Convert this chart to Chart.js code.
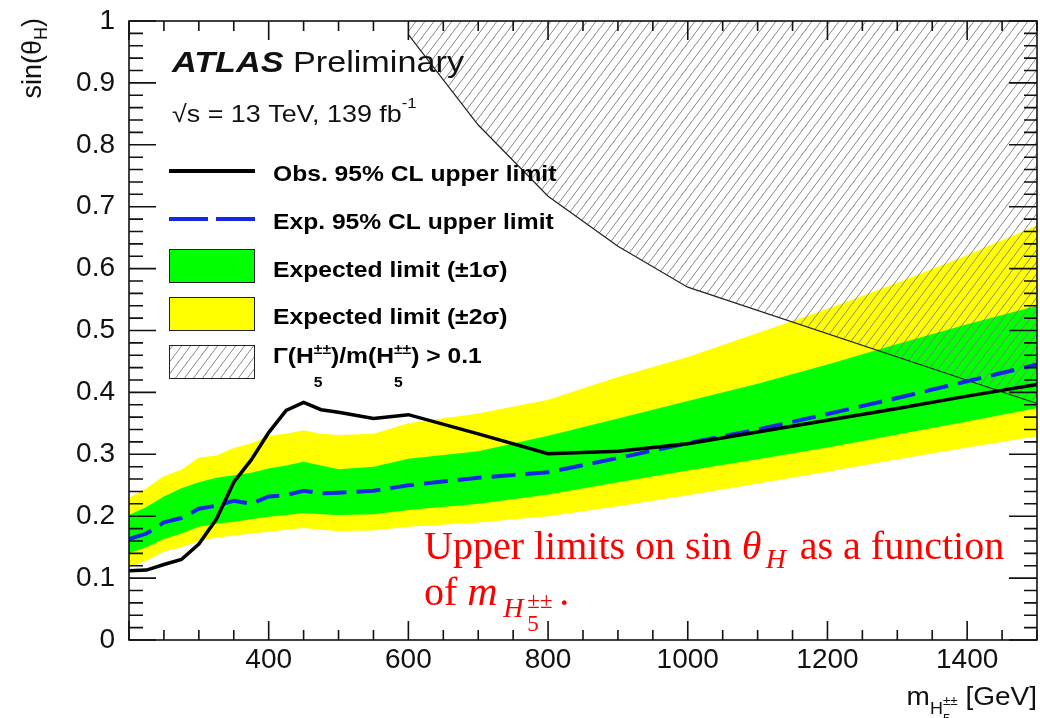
<!DOCTYPE html>
<html>
<head>
<meta charset="utf-8">
<title>sin(theta_H) limits</title>
<script src="https://cdn.jsdelivr.net/npm/chart.js@4.4.1/dist/chart.umd.min.js"></script>
<style>
  html, body { margin: 0; padding: 0; background: #fff; }
  canvas { display: block; }
</style>
</head>
<body>
<canvas id="limitChart" width="1040" height="718"></canvas>
<script>
// H5++ mass points [GeV] and 95% CL upper limits on sin(theta_H)
const masses       = [200, 225, 250, 275, 300, 325, 350, 375, 400, 425, 450, 475, 500, 550, 600, 700, 800, 900, 1000, 1100, 1200, 1300, 1400, 1500];
const observed     = [0.112, 0.113, 0.122, 0.130, 0.155, 0.195, 0.255, 0.291, 0.335, 0.371, 0.384, 0.372, 0.368, 0.358, 0.364, 0.333, 0.301, 0.305, 0.317, 0.336, 0.355, 0.374, 0.394, 0.413];
const expected     = [0.163, 0.172, 0.190, 0.197, 0.212, 0.217, 0.225, 0.220, 0.232, 0.234, 0.241, 0.237, 0.238, 0.241, 0.250, 0.262, 0.271, 0.294, 0.318, 0.340, 0.365, 0.391, 0.418, 0.445];
const oneSigmaUp   = [0.202, 0.215, 0.232, 0.245, 0.255, 0.262, 0.266, 0.270, 0.277, 0.282, 0.288, 0.282, 0.276, 0.280, 0.293, 0.305, 0.330, 0.358, 0.386, 0.414, 0.445, 0.478, 0.510, 0.540];
const oneSigmaDown = [0.140, 0.150, 0.163, 0.172, 0.183, 0.188, 0.191, 0.195, 0.199, 0.202, 0.205, 0.203, 0.202, 0.203, 0.210, 0.220, 0.235, 0.255, 0.274, 0.292, 0.311, 0.332, 0.353, 0.375];
const twoSigmaUp   = [0.230, 0.245, 0.265, 0.275, 0.295, 0.298, 0.310, 0.318, 0.330, 0.333, 0.339, 0.333, 0.331, 0.333, 0.350, 0.366, 0.388, 0.425, 0.457, 0.496, 0.535, 0.577, 0.622, 0.670];
const twoSigmaDown = [0.118, 0.128, 0.143, 0.150, 0.160, 0.165, 0.169, 0.172, 0.175, 0.178, 0.181, 0.178, 0.176, 0.177, 0.183, 0.190, 0.200, 0.216, 0.234, 0.253, 0.272, 0.292, 0.311, 0.329];

// boundary of Gamma(H5)/m(H5) > 0.1
const widthMasses = [600, 700, 800, 900, 1000, 1500];
const widthLimit  = [0.978, 0.832, 0.717, 0.636, 0.570, 0.382];

// axis ticks
const xTickValues = [400, 600, 800, 1000, 1200, 1400];
const xTickLabels = ['400', '600', '800', '1000', '1200', '1400'];
const yTickValues = [0, 0.1, 0.2, 0.3, 0.4, 0.5, 0.6, 0.7, 0.8, 0.9, 1];
const yTickLabels = ['0', '0.1', '0.2', '0.3', '0.4', '0.5', '0.6', '0.7', '0.8', '0.9', '1'];

const SANS = '"Liberation Sans", Arial, Helvetica, sans-serif';
const SERIF = '"Liberation Serif", "Times New Roman", serif';
const GREEN = '#00ff00';
const YELLOW = '#ffff00';
const BLUE = '#1428e6';
const STRETCH = 1.12; // ROOT text is a bit wider than Arial

function hatchPattern() {
  const c = document.createElement('canvas');
  c.width = 9; c.height = 12;
  const g = c.getContext('2d');
  g.strokeStyle = '#7c7c7c';
  g.lineWidth = 0.9;
  g.beginPath();
  for (const off of [-9, 0, 9]) {
    g.moveTo(off, 12);
    g.lineTo(off + 9, 0);
  }
  g.stroke();
  return g.createPattern(c, 'repeat');
}
const hatch = hatchPattern();

const pts = (xs, ys) => xs.map((x, i) => ({ x: x, y: ys[i] }));

// text made of runs: {text, font, dy, adv}
function runsWidth(ctx, runs) {
  let w = 0;
  for (const r of runs) {
    ctx.font = r.font;
    w += r.adv !== undefined ? r.adv : ctx.measureText(r.text).width;
  }
  return w;
}
function drawRuns(ctx, x, y, runs, sx) {
  ctx.save();
  ctx.translate(x, y);
  ctx.scale(sx || 1, 1);
  let cx = 0;
  for (const r of runs) {
    ctx.font = r.font;
    ctx.fillText(r.text, cx, r.dy || 0);
    cx += r.adv !== undefined ? r.adv : ctx.measureText(r.text).width;
  }
  ctx.restore();
}

const decorations = {
  id: 'decorations',
  afterDraw(chart) {
    const { ctx, chartArea: a, scales: { x, y } } = chart;
    ctx.save();

    // frame and ROOT-style inward ticks
    ctx.strokeStyle = '#111';
    ctx.lineWidth = 1.6;
    ctx.strokeRect(a.left, a.top, a.right - a.left, a.bottom - a.top);
    ctx.beginPath();
    for (let m = 200; m <= 1500; m += 50) {
      const px = x.getPixelForValue(m);
      const len = m % 200 === 0 ? 19 : 10;
      ctx.moveTo(px, a.bottom); ctx.lineTo(px, a.bottom - len);
      ctx.moveTo(px, a.top); ctx.lineTo(px, a.top + len);
    }
    for (let k = 0; k <= 50; k++) {
      const py = y.getPixelForValue(k * 0.02);
      const major = k % 5 === 0;
      ctx.moveTo(a.left, py); ctx.lineTo(a.left + (major ? 27 : 14), py);
      ctx.moveTo(a.right, py); ctx.lineTo(a.right - (major ? 28 : 13), py);
    }
    ctx.stroke();

    // axis titles
    ctx.fillStyle = '#111';
    ctx.textAlign = 'left';
    ctx.textBaseline = 'alphabetic';
    const yTitle = [
      { text: 'sin(θ', font: '27px ' + SANS },
      { text: 'H', font: '18px ' + SANS, dy: 6 },
      { text: ')', font: '27px ' + SANS }
    ];
    ctx.save();
    ctx.translate(41, 18);
    ctx.rotate(-Math.PI / 2);
    drawRuns(ctx, -runsWidth(ctx, yTitle), 0, yTitle);
    ctx.restore();

    const xTitle = [
      { text: 'm', font: '25px ' + SANS },
      { text: 'H', font: '16px ' + SANS, dy: 9 },
      { text: '5', font: '12px ' + SANS, dy: 18, adv: 0 },
      { text: '±±', font: '12px ' + SANS, dy: 0 },
      { text: ' [GeV]', font: '25px ' + SANS }
    ];
    drawRuns(ctx, 1037 - runsWidth(ctx, xTitle) * STRETCH, 705, xTitle, STRETCH);

    // labels
    drawRuns(ctx, 172, 72, [
      { text: 'ATLAS', font: 'italic bold 30px ' + SANS },
      { text: ' Preliminary', font: '30px ' + SANS }
    ], 1.14);
    drawRuns(ctx, 172, 122, [
      { text: '√s = 13 TeV, 139 fb', font: '24px ' + SANS },
      { text: '-1', font: '15px ' + SANS, dy: -14 }
    ], STRETCH);

    // legend samples
    ctx.lineWidth = 4;
    ctx.strokeStyle = '#000';
    ctx.beginPath(); ctx.moveTo(169, 171); ctx.lineTo(255, 171); ctx.stroke();
    ctx.strokeStyle = BLUE;
    ctx.setLineDash([39, 8]);
    ctx.beginPath(); ctx.moveTo(169, 219); ctx.lineTo(255, 219); ctx.stroke();
    ctx.setLineDash([]);
    ctx.lineWidth = 1;
    ctx.strokeStyle = '#222';
    const boxes = [[249, GREEN], [297, YELLOW], [345, hatch]];
    for (const [top, fill] of boxes) {
      ctx.fillStyle = fill;
      ctx.fillRect(169.5, top + 0.5, 85, 33);
      ctx.strokeRect(169.5, top + 0.5, 85, 33);
    }

    ctx.fillStyle = '#000';
    const B = 'bold 22px ' + SANS;
    const legendRows = [
      [181, 'Obs. 95% CL upper limit'],
      [229, 'Exp. 95% CL upper limit'],
      [277, 'Expected limit (±1σ)'],
      [324, 'Expected limit (±2σ)']
    ];
    for (const [base, label] of legendRows) {
      drawRuns(ctx, 273, base, [{ text: label, font: B }], STRETCH);
    }
    const small = 'bold 14px ' + SANS;
    drawRuns(ctx, 273, 363, [
      { text: 'Γ(H', font: B },
      { text: '5', font: small, dy: 24, adv: 0 },
      { text: '±±', font: small, dy: -9 },
      { text: ')/m(H', font: B },
      { text: '5', font: small, dy: 24, adv: 0 },
      { text: '±±', font: small, dy: -9 },
      { text: ') > 0.1', font: B }
    ], STRETCH);

    // caption
    ctx.fillStyle = '#ff0000';
    drawRuns(ctx, 424, 559, [
      { text: 'Upper limits on sin ', font: '40px ' + SERIF },
      { text: 'θ', font: 'italic 40px ' + SERIF, adv: 24 },
      { text: 'H', font: 'italic 28px ' + SERIF, dy: 9, adv: 24 },
      { text: ' as a function', font: '40px ' + SERIF }
    ]);
    drawRuns(ctx, 424, 605, [
      { text: 'of ', font: '40px ' + SERIF },
      { text: 'm', font: 'italic 42px ' + SERIF, adv: 36 },
      { text: 'H', font: 'italic 28px ' + SERIF, dy: 12, adv: 24 },
      { text: '5', font: '23px ' + SERIF, dy: 26, adv: 0 },
      { text: '±±', font: '23px ' + SERIF, dy: 3, adv: 32 },
      { text: '.', font: '40px ' + SERIF }
    ]);
    ctx.restore();
  }
};

const tickFont = { family: SANS, size: 28 };

new Chart(document.getElementById('limitChart'), {
  type: 'line',
  data: {
    datasets: [
      { label: 'Obs. 95% CL upper limit', data: pts(masses, observed), borderColor: '#000', borderWidth: 3.5, pointRadius: 0, fill: false, tension: 0 },
      { label: 'Exp. 95% CL upper limit', data: pts(masses, expected), borderColor: BLUE, borderWidth: 4, borderDash: [24, 10], pointRadius: 0, fill: false },
      { label: 'width', data: pts(widthMasses, widthLimit), borderColor: '#222', borderWidth: 1.2, backgroundColor: hatch, fill: 'end', pointRadius: 0 },
      { label: '1 sigma up', data: pts(masses, oneSigmaUp), borderColor: 'rgba(0,0,0,0)', borderWidth: 0, backgroundColor: GREEN, fill: '+1', pointRadius: 0 },
      { label: '1 sigma down', data: pts(masses, oneSigmaDown), borderColor: 'rgba(0,0,0,0)', borderWidth: 0, pointRadius: 0, fill: false },
      { label: '2 sigma up', data: pts(masses, twoSigmaUp), borderColor: 'rgba(0,0,0,0)', borderWidth: 0, backgroundColor: YELLOW, fill: '+1', pointRadius: 0 },
      { label: '2 sigma down', data: pts(masses, twoSigmaDown), borderColor: 'rgba(0,0,0,0)', borderWidth: 0, pointRadius: 0, fill: false }
    ]
  },
  options: {
    responsive: false,
    animation: false,
    devicePixelRatio: 1,
    layout: { padding: { left: 0, right: 3, top: 21, bottom: 0 } },
    plugins: { legend: { display: false }, tooltip: { enabled: false } },
    scales: {
      x: {
        type: 'linear', min: 200, max: 1500,
        grid: { display: false, drawTicks: false },
        border: { display: false },
        afterBuildTicks: s => { s.ticks = xTickValues.map(v => ({ value: v })); },
        afterFit: s => { s.height = 78; s.paddingLeft = 0; s.paddingRight = 0; },
        ticks: { autoSkip: false, maxRotation: 0, padding: 3, color: '#111', font: tickFont, callback: (v, i) => xTickLabels[i] }
      },
      y: {
        type: 'linear', min: 0, max: 1,
        grid: { display: false, drawTicks: false },
        border: { display: false },
        afterBuildTicks: s => { s.ticks = yTickValues.map(v => ({ value: v })); },
        afterFit: s => { s.width = 129; s.paddingTop = 0; s.paddingBottom = 0; },
        ticks: { autoSkip: false, padding: 14, color: '#111', font: tickFont, callback: (v, i) => yTickLabels[i] }
      }
    }
  },
  plugins: [decorations]
});
</script>
</body>
</html>
